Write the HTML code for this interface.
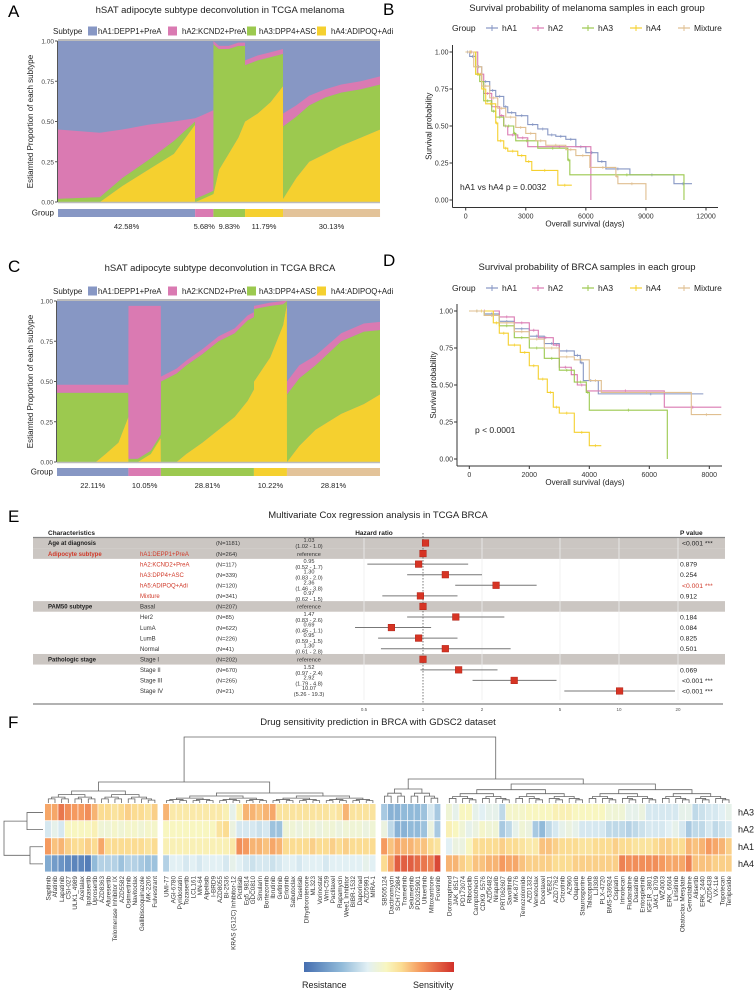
<!DOCTYPE html>
<html><head><meta charset="utf-8">
<style>
html,body{margin:0;padding:0;background:#fff;}
svg{display:block;font-family:"Liberation Sans",Arial,sans-serif;}
</style></head>
<body>
<svg id="fig" width="756" height="991" viewBox="0 0 756 991" xmlns="http://www.w3.org/2000/svg">
<rect x="0" y="0" width="756" height="991" fill="#fff"/>
<g id="pA"></g>
<g id="pC"></g>
<g id="pB"></g>
<g id="pD"></g>
<g id="pE"></g>
<g id="pF"></g>
</svg>
<script>
// ---------- Panel A/C data ----------
const subtypeNames = ["hA1:DEPP1+PreA","hA2:KCND2+PreA","hA3:DPP4+ASC","hA4:ADIPOQ+Adi"];
const melGroupPct = [42.58,5.68,9.83,11.79,30.13];
const melPos = [0,0.13,0.2,0.28,0.36,0.4255,0.4259,0.45,0.4825,0.4827,0.5,0.53,0.56,0.5808,0.581,0.62,0.66,0.6987,0.699,0.74,0.78,0.83,0.88,0.94,1];
const melYel = [0,0,0.1,0.2,0.3,0.48,0,0.02,0.05,0.05,0.2,0.3,0.4,0.5,0.5,0.55,0.62,0.72,0.02,0.15,0.25,0.3,0.35,0.4,0.45];
const melGrn = [0.02,0.03,0.05,0.06,0.08,0.02,0.02,0.02,0.02,0.93,0.75,0.65,0.57,0.47,0.35,0.33,0.28,0.2,0.45,0.38,0.35,0.35,0.33,0.3,0.28];
const melPnk = [0.43,0.4,0.3,0.22,0.12,0.02,0.5,0.5,0.5,0.02,0.02,0.02,0.02,0.02,0.03,0.03,0.03,0.03,0.08,0.07,0.06,0.05,0.05,0.05,0.05];
const brcGroupPct = [22.11,10.05,28.81,10.22,28.81];
const brcPos = [0,0.12,0.15,0.19,0.2209,0.2213,0.25,0.29,0.3214,0.3218,0.37,0.4,0.45,0.5,0.55,0.59,0.6095,0.6099,0.66,0.7,0.7117,0.7121,0.75,0.8,0.88,0.95,1];
const brcYel = [0,0,0.05,0.12,0.28,0,0,0.05,0.15,0,0,0.05,0.12,0.2,0.28,0.38,0.45,0.5,0.65,0.85,0.98,0,0.1,0.2,0.3,0.36,0.42];
const brcGrn = [0.43,0.43,0.38,0.31,0.15,0.02,0.02,0.02,0.02,0.5,0.55,0.55,0.55,0.55,0.52,0.5,0.45,0.45,0.32,0.13,0.02,0.42,0.42,0.4,0.45,0.45,0.4];
const brcPnk = [0.05,0.05,0.05,0.05,0.05,0.95,0.95,0.9,0.8,0.03,0.03,0.03,0.03,0.03,0.03,0.03,0.03,0.02,0.02,0.02,0.0,0.08,0.08,0.06,0.05,0.05,0.05];

// ---------- Panel B/D data ----------
const kmGroups = ["hA1","hA2","hA3","hA4","Mixture"];
const melT_hA1=[0,200,500,800,1200,1500,1900,2100,2500,3100,3600,4100,4500,5000,5500,6000,6600,7000,8200,10400,11300];
const melS_hA1=[1,0.97,0.9,0.8,0.74,0.7,0.63,0.59,0.57,0.51,0.48,0.44,0.43,0.41,0.36,0.32,0.26,0.21,0.17,0.11,0.11];
const melT_hA2=[0,600,900,1300,1700,1900,2100,2600,3100,6250,6250];
const melS_hA2=[1,0.85,0.72,0.63,0.57,0.5,0.44,0.42,0.36,0.36,0];
const melT_hA3=[0,500,700,900,1300,1500,1900,2400,2500,3600,5100,5200,10900,10900];
const melS_hA3=[1,0.85,0.8,0.67,0.6,0.56,0.5,0.45,0.4,0.35,0.27,0.17,0.17,0];
const melT_hA4=[0,500,800,1000,1500,1600,1900,2100,2600,3000,3300,4600,5300];
const melS_hA4=[1,0.85,0.75,0.65,0.52,0.4,0.35,0.33,0.3,0.26,0.2,0.1,0.1];
const melT_Mix=[0,400,800,1200,1600,2000,2500,3000,3500,4000,5000,5500,6200,7500,7600,9000,9000];
const melS_Mix=[1,0.9,0.77,0.69,0.62,0.56,0.49,0.45,0.4,0.37,0.34,0.3,0.22,0.16,0.11,0.11,0];
const brcT_hA1=[0,500,1000,1500,2000,2500,3000,3500,3700,3800,4300,7800];
const brcS_hA1=[1,0.98,0.93,0.88,0.83,0.78,0.73,0.7,0.65,0.53,0.44,0.44];
const brcT_hA2=[0,1000,1500,2000,2300,2800,3000,3400,3600,3900,6500,8400];
const brcS_hA2=[1,0.96,0.92,0.87,0.82,0.77,0.62,0.57,0.5,0.46,0.35,0.35];
const brcT_hA3=[0,500,1000,1500,2000,2500,3000,3500,3900,4000,6600,6600];
const brcS_hA3=[1,0.97,0.9,0.82,0.75,0.68,0.6,0.52,0.45,0.33,0.33,0];
const brcT_hA4=[0,800,1000,1300,1700,2000,2300,2600,2800,3000,3500,4000,4400];
const brcS_hA4=[1,0.92,0.85,0.77,0.72,0.63,0.54,0.45,0.35,0.31,0.18,0.09,0.09];
const brcT_Mix=[0,500,1000,1500,2000,2500,3000,3500,4000,4400,7400,8400];
const brcS_Mix=[1,0.97,0.92,0.86,0.81,0.75,0.69,0.67,0.53,0.45,0.3,0.3];

// ---------- Panel E data ----------
const coxChar = ["Age at diagnosis","Adipocyte subtype","","","","","PAM50 subtype","","","","","Pathologic stage","","",""];
const coxSub = ["","hA1:DEPP1+PreA","hA2:KCND2+PreA","hA3:DPP4+ASC","hA5:ADIPOQ+Adi","Mixture","Basal","Her2","LumA","LumB","Normal","Stage I","Stage II","Stage III","Stage IV"];
const coxN = [1181,264,117,339,120,341,207,85,622,226,41,202,670,265,21];
const coxHR = [1.03,1,0.95,1.30,2.36,0.97,1,1.47,0.69,0.95,1.30,1,1.52,2.92,10.07];
const coxLo = [1.02,1,0.52,0.83,1.46,0.62,1,0.83,0.45,0.59,0.61,1,0.97,1.79,5.26];
const coxHi = [1.04,1,1.7,2.0,3.8,1.5,1,2.6,1.1,1.5,2.8,1,2.4,4.8,19.3];
const coxHRtxt = ["1.03","reference","0.95","1.30","2.36","0.97","reference","1.47","0.69","0.95","1.30","reference","1.52","2.92","10.07"];
const coxCItxt = ["(1.02 - 1.0)","","(0.52 - 1.7)","(0.83 - 2.0)","(1.46 - 3.8)","(0.62 - 1.5)","","(0.83 - 2.6)","(0.45 - 1.1)","(0.59 - 1.5)","(0.61 - 2.8)","","(0.97 - 2.4)","(1.79 - 4.8)","(5.26 - 19.3)"];
const coxP = ["<0.001 ***","","0.879","0.254","<0.001 ***","0.912","","0.184","0.084","0.825","0.501","","0.069","<0.001 ***","<0.001 ***"];
const coxTicks = [0.5,1,2,5,10,20];

// ---------- Panel F data ----------
const drugs = ["Sapitinib","Afatinib","Lapatinib","CSI-027","ULK1_4989","Acetalax","Ipatasertib","Uprosertib","AZD8363","Afuresertib","Telomerase Inhibitor IX","AZD5582","Osimertinib","Navitoclax","Gallibiscoquinazole","MK-2206","Fulvestrant",
"UMI-77","AGI-6780","Pyridostatin","Tozasertib","LCL161","MN-64","Alpelisib","I-BRD9","AZD8055","BI-2536","KRAS (G12C) Inhibitor-12","Pictilisib","Eg5_9814","GDC0810","Sinularin","Bortezomib","Ibrutinib","Gefitinib","Erlotinib","Sabutoclax","Taselisib","Dihydrorotenone","ML323","Vorinostat","Wnt-C59","Paclitaxel","Rapamycin","Wee1 Inhibitor","BIBR-1532","Daporinad","AZD5991","MIRA-1",
"SB505124","Dactinomycin","SCH772984","Trametinib","Selumetinib","PD0325901","Ulixertinib","Mitoxantrone","Foretinib",
"Doramapimod","JAK_8517","PD173074","Ribociclib","Camptothecin","CDK9_5576","AZD6482","Niraparib","PRT062607","Savolitinib","MK-8776","Temozolomide","AZD1332","Venetoclax","Docetaxel","VE821","AZD7762","Crizotinib","AZ960","Olaparib","Staurosporine","Talazoparib","LJI308","PLX-4720","BMS-536924","Cisplatin","Irinotecan","Fludarabine","Dasatinib","Entospletinib","IGF1R_3801","JAK1_8709","WZ4003","ERK_6604","Linsitinib","Obatoclax Mesylate","Gemcitabine","Alisertib","ERK_2440","AZD5438","VX-11e","Topotecan","Teniposide"];
const drugGroupSizes = [17,32,9,43];
const heatRows = ["hA3","hA2","hA1","hA4"];
const valsHA3 = [.5,.5,.7,.6,.55,.55,.6,.45,.3,.3,.25,.3,.35,.3,.3,.25,.35,
.45,.2,.2,.2,.2,.2,.2,.2,.2,.15,-.1,.15,.45,.45,.4,.45,.5,.25,.25,.25,.25,.25,.25,.25,.25,.2,.25,.45,.25,.25,.25,.25,
-.4,-.55,-.55,-.5,-.5,-.5,-.45,-.2,-.4,
0,-.1,.1,.1,-.1,-.15,-.1,-.1,-.3,.05,.05,.05,.1,.1,.1,.1,.15,.15,.15,.1,.1,.1,.1,.1,0,0,0,-.1,-.1,-.05,-.2,-.2,-.2,-.2,-.2,-.1,-.1,-.3,-.25,-.2,-.2,-.15,-.1];
const valsHA2 = [-.2,-.1,-.2,.1,.1,.1,.1,.15,0,0,.05,0,.05,.05,0,.05,.05,
.1,.1,.1,.1,.1,.1,.1,.1,.25,.3,-.05,-.2,-.2,-.2,-.25,-.2,-.45,-.45,0,0,-.05,0,0,-.05,0,0,-.05,0,0,0,-.05,0,
-.05,-.3,-.55,-.55,-.5,-.5,-.45,-.05,-.4,
.15,.1,0,-.1,-.05,.05,0,0,-.4,-.3,-.1,0,-.05,-.4,-.5,-.3,-.2,-.1,-.05,-.1,-.2,-.2,-.2,-.2,-.3,-.3,-.3,-.35,-.3,-.25,-.2,-.2,-.2,-.15,-.1,-.2,-.4,-.3,-.3,-.2,-.3,-.25,-.2];
const valsHA1 = [.55,.4,.45,.35,.3,.3,.35,.3,.5,.3,.3,.3,.3,.3,.3,.25,.3,
.15,.15,.15,.15,.15,.15,.15,.15,.15,.15,.2,.6,.55,.45,.45,.4,.5,.45,.3,.3,.3,.3,.35,.3,.3,.35,.3,.35,.3,.3,.3,.3,
.55,.4,.5,.45,.45,.4,.4,.3,.25,
-.15,-.05,-.05,.1,.3,.3,.3,.3,.35,.3,.3,.25,.2,.2,.4,.4,.35,.3,.3,.3,.25,.25,.3,.3,.3,.35,.3,.3,.25,.25,.25,.3,.35,.35,.3,.3,.45,.4,.45,.55,.5,.45,.35];
const valsHA4 = [-.6,-.7,-.75,-.8,-.85,-.85,-.9,-.5,-.35,-.35,-.35,-.45,-.35,-.35,-.4,-.45,-.45,
-.35,-.15,-.15,-.2,-.15,-.2,-.15,-.15,-.15,-.2,-.1,-.15,-.2,-.25,-.2,-.2,-.25,-.2,-.15,-.15,-.2,-.15,-.15,-.15,-.2,-.15,-.15,-.15,-.15,-.15,-.1,-.15,
.3,.5,.8,.8,.8,.75,.7,.65,.9,
.45,.45,.35,.3,.4,.4,.45,.45,.55,.5,.5,.4,.35,.35,.35,.35,.3,.3,.3,.35,.35,.35,.35,.35,.35,.35,.65,.6,.6,.6,.6,.6,.55,.5,.5,.5,.65,.4,.4,.4,.35,.35,.35];

// ---------- helpers ----------
const NS="http://www.w3.org/2000/svg";
function mk(parent,tag,attrs,text){const e=document.createElementNS(NS,tag);for(const k in attrs)e.setAttribute(k,attrs[k]);if(text!==undefined)e.textContent=text;parent.appendChild(e);return e;}
const COL={hA1:"#8797c4",hA2:"#da7ab2",hA3:"#9cc94f",hA4:"#f5d02f",Mixture:"#e0bf90"};
const grpCols=[COL.hA1,COL.hA2,COL.hA3,COL.hA4,"#e3c399"];

// ---------- stacked deconvolution panels ----------
function stackPanel(g,o){
  const L=o.x0,R=o.x1,T=o.y0,B=o.y1;
  const sx=f=>L+f*(R-L), sy=v=>B-v*(B-T);
  let t=mk(g,"text",{x:8,y:o.lblY,"font-size":17},o.letter);
  
  
  t=mk(g,"text",{x:220,y:o.titleY,"font-size":9.5,"text-anchor":"middle",fill:"#222"},o.title);
  
  
  const ly=o.legY;
  t=mk(g,"text",{x:53,y:ly+3,"font-size":8,fill:"#222"},"Subtype");
  
  
  const bx=[88,168,247,317],tx=[98,182,259,331],cs=[COL.hA1,COL.hA2,COL.hA3,COL.hA4];
  subtypeNames.forEach((n,i)=>{
    const r=mk(g,"rect",{x:bx[i],y:ly-4.5,width:9,height:9,fill:cs[i]});
    
    
    const tt=mk(g,"text",{x:tx[i],y:ly+3,"font-size":7.8,fill:"#222"},n);
    
    
  });
  mk(g,"rect",{x:L,y:T,width:R-L,height:B-T,fill:COL.hA1});
  const layers=[[o.yel,COL.hA4],[o.grn,COL.hA3],[o.pnk,COL.hA2]];
  let base=o.pos.map(()=>0);
  layers.forEach(([arr,c],li)=>{
    const top=base.map((b,i)=>b+arr[i]);
    let pts=o.pos.map((p,i)=>sx(p)+","+sy(Math.min(1,top[i]))).join(" ");
    pts+=" "+o.pos.slice().reverse().map((p,j)=>{const i=o.pos.length-1-j;return sx(p)+","+sy(base[i]);}).join(" ");
    const pg=mk(g,"polygon",{points:pts,fill:c});
    
    
    base=top;
  });
  mk(g,"line",{x1:L,y1:T-1,x2:R,y2:T-1,stroke:"#bbb","stroke-width":2});
  mk(g,"line",{x1:L,y1:B+0.5,x2:R,y2:B+0.5,stroke:"#bbb","stroke-width":1.5});
  mk(g,"line",{x1:L-0.5,y1:T,x2:L-0.5,y2:B,stroke:"#555","stroke-width":1});
  [0,0.25,0.5,0.75,1].forEach(v=>{
    mk(g,"line",{x1:L-3,y1:sy(v),x2:L-0.5,y2:sy(v),stroke:"#555"});
    const tl=mk(g,"text",{x:L-4,y:sy(v)+2.5,"font-size":6.5,"text-anchor":"end",fill:"#444"},v.toFixed(2));
    
    
  });
  const yt=mk(g,"text",{x:0,y:0,"font-size":8,"text-anchor":"middle",fill:"#222",transform:`translate(33,${(T+B)/2}) rotate(-90)`},"Estiamted Proportion of each subtype");
  
  
  const gt=mk(g,"text",{x:L-4,y:o.gY+6.5,"font-size":8,"text-anchor":"end",fill:"#222"},"Group");
  
  
  let acc=0;
  o.pct.forEach((p,i)=>{
    const x0=sx(acc/100),x1=sx((acc+p)/100);
    const r=mk(g,"rect",{x:x0,y:o.gY,width:x1-x0,height:8,fill:grpCols[i]});
    
    
    const pt=mk(g,"text",{x:(x0+x1)/2,y:o.gY+20,"font-size":7.5,"text-anchor":"middle",fill:"#222"},p.toFixed(2)+"%");
    
    
    acc+=p;
  });
}
stackPanel(document.getElementById("pA"),{letter:"A",lblY:17,title:"hSAT adipocyte subtype deconvolution in TCGA melanoma",titleY:13,legY:31,x0:58,x1:380,y0:41,y1:202,gY:209,pct:melGroupPct,pos:melPos,yel:melYel,grn:melGrn,pnk:melPnk});
stackPanel(document.getElementById("pC"),{letter:"C",lblY:272,title:"hSAT adipocyte subtype deconvolution in TCGA BRCA",titleY:271,legY:291,x0:57,x1:380,y0:301,y1:462,gY:468,pct:brcGroupPct,pos:brcPos,yel:brcYel,grn:brcGrn,pnk:brcPnk});

// ---------- KM panels ----------
function kmPanel(g,o){
  const sx=v=>o.xz+(v/o.xmaxTick)*(o.xm-o.xz), sy=v=>o.y0v-(v)*(o.y0v-o.y1v);
  let t=mk(g,"text",{x:383,y:o.lblY,"font-size":17},o.letter);
  
  
  t=mk(g,"text",{x:587,y:o.titleY,"font-size":9.5,"text-anchor":"middle",fill:"#222"},o.title);
  
  
  t=mk(g,"text",{x:452,y:o.legY+3,"font-size":8.5,fill:"#222"},"Group");
  
  
  const txs=[502,548,598,646,694];
  kmGroups.forEach((n,i)=>{
    const c=COL[n];
    mk(g,"line",{x1:txs[i]-16,y1:o.legY,x2:txs[i]-4,y2:o.legY,stroke:c,"stroke-width":1.2});
    mk(g,"line",{x1:txs[i]-10,y1:o.legY-3,x2:txs[i]-10,y2:o.legY+3,stroke:c,"stroke-width":1});
    const e=mk(g,"text",{x:txs[i],y:o.legY+3,"font-size":8.5,fill:"#222"},n);
    
    
  });
  // axes
  mk(g,"line",{x1:o.axL,y1:o.axTop,x2:o.axL,y2:o.axB,stroke:"#333","stroke-width":1});
  mk(g,"line",{x1:o.axL,y1:o.axB,x2:o.axR,y2:o.axB,stroke:"#333","stroke-width":1});
  [0,0.25,0.5,0.75,1].forEach(v=>{
    mk(g,"line",{x1:o.axL-3,y1:sy(v),x2:o.axL,y2:sy(v),stroke:"#333"});
    const tl=mk(g,"text",{x:o.axL-4,y:sy(v)+2.5,"font-size":7,"text-anchor":"end",fill:"#333"},v.toFixed(2));
    
    
  });
  o.xticks.forEach(v=>{
    mk(g,"line",{x1:sx(v),y1:o.axB,x2:sx(v),y2:o.axB+3,stroke:"#333"});
    const tl=mk(g,"text",{x:sx(v),y:o.axB+11,"font-size":7,"text-anchor":"middle",fill:"#333"},String(v));
    
    
  });
  t=mk(g,"text",{x:585,y:o.axB+19,"font-size":8,"text-anchor":"middle",fill:"#222"},"Overall survival (days)");
  
  
  t=mk(g,"text",{x:0,y:0,"font-size":8,"text-anchor":"middle",fill:"#222",transform:`translate(${o.axL-21},${(o.axTop+o.axB)/2}) rotate(-90)`},"Survival probability");
  
  
  kmGroups.forEach((n,i)=>{
    const T=o.T[i],S=o.S[i];
    let d=`M${sx(T[0])},${sy(S[0])}`;
    for(let k=1;k<T.length;k++){d+=` H${sx(T[k])} V${sy(S[k])}`;}
    const p=mk(g,"path",{d:d,fill:"none",stroke:COL[n],"stroke-width":1.1});
    
    
    for(let k=1;k<T.length;k++){
      if(S[k]===0)continue;
      const mx=(sx(T[k-1])+sx(T[k]))/2;
      mk(g,"path",{d:`M${mx-1.5},${sy(S[k-1])}h3M${mx},${sy(S[k-1])-1.5}v3`,stroke:COL[n],"stroke-width":0.7});
    }
  });
  t=mk(g,"text",{x:o.annX,y:o.annY,"font-size":8.5,fill:"#222"},o.ann);
  
  
}
kmPanel(document.getElementById("pB"),{letter:"B",lblY:15,title:"Survival probability of melanoma samples in each group",titleY:11,legY:28,
 xz:465.7,xm:706,xmaxTick:12000,y0v:200,y1v:52,axL:452.5,axB:207.5,axR:718,axTop:45,xticks:[0,3000,6000,9000,12000],
 T:[melT_hA1,melT_hA2,melT_hA3,melT_hA4,melT_Mix],S:[melS_hA1,melS_hA2,melS_hA3,melS_hA4,melS_Mix],ann:"hA1 vs hA4 p = 0.0032",annX:460,annY:190});
kmPanel(document.getElementById("pD"),{letter:"D",lblY:266,title:"Survival probability of BRCA samples in each group",titleY:270,legY:288,
 xz:469.3,xm:709.3,xmaxTick:8000,y0v:459,y1v:311,axL:457,axB:466,axR:722,axTop:304,xticks:[0,2000,4000,6000,8000],
 T:[brcT_hA1,brcT_hA2,brcT_hA3,brcT_hA4,brcT_Mix],S:[brcS_hA1,brcS_hA2,brcS_hA3,brcS_hA4,brcS_Mix],ann:"p < 0.0001",annX:475,annY:433});

// ---------- Forest plot ----------
(function(){
  const g=document.getElementById("pE");
  const hx=v=>423+59*Math.log2(v);
  const rowY=i=>543+i*10.57;
  let t=mk(g,"text",{x:8,y:522,"font-size":17},"E");
  
  
  t=mk(g,"text",{x:378,y:518,"font-size":9.5,"text-anchor":"middle",fill:"#222"},"Multivariate Cox regression analysis in TCGA BRCA");
  
  
  [[48,"start","Characteristics"],[374,"middle","Hazard ratio"],[680,"start","P value"]].forEach(([x,a,s])=>{
    const h=mk(g,"text",{x:x,y:535,"font-size":6.5,"font-weight":"bold","text-anchor":a,fill:"#222"},s);
    
    
  });
  coxHR.forEach((v,i)=>{
    if(coxChar[i]!==""){
      const b=mk(g,"rect",{x:33,y:rowY(i)-5.3,width:692,height:10.6,fill:"#cbc6c2"});
      
      
    }
  });
  mk(g,"line",{x1:33,y1:537.5,x2:725,y2:537.5,stroke:"#888","stroke-width":1.2});
  coxTicks.forEach(v=>{ if(v!==1) mk(g,"line",{x1:hx(v),y1:538,x2:hx(v),y2:700,stroke:"#eee","stroke-width":0.8}); });
  mk(g,"line",{x1:hx(1),y1:533,x2:hx(1),y2:704,stroke:"#444","stroke-width":0.7,"stroke-dasharray":"1.5,1.5"});
  coxHR.forEach((v,i)=>{
    const y=rowY(i), red=(i>=1&&i<=5);
    if(coxChar[i]){const c=mk(g,"text",{x:48,y:y+2.2,"font-size":6,"font-weight":"bold",fill:i===1?"#d03a2a":"#222"},coxChar[i]);
      
      }
    if(coxSub[i]){const c=mk(g,"text",{x:140,y:y+2.2,"font-size":6,fill:red?"#d03a2a":"#333"},coxSub[i]);
      
      }
    const n=mk(g,"text",{x:216,y:y+2.2,"font-size":5.8,fill:"#333"},"(N="+coxN[i]+")");
    
    
    if(coxCItxt[i]){
      mk(g,"text",{x:309,y:y-1,"font-size":5.6,"text-anchor":"middle",fill:"#333"},coxHRtxt[i]);
      mk(g,"text",{x:309,y:y+5,"font-size":5.6,"text-anchor":"middle",fill:"#333"},coxCItxt[i]);
    } else {
      mk(g,"text",{x:309,y:y+2.2,"font-size":5.6,"text-anchor":"middle",fill:"#333"},coxHRtxt[i]);
    }
    if(coxLo[i]!==coxHi[i]){
      const l=mk(g,"line",{x1:hx(coxLo[i]),y1:y,x2:hx(coxHi[i]),y2:y,stroke:"#777","stroke-width":1});
      
      
    }
    const s=mk(g,"rect",{x:hx(v)-3.3,y:y-3.3,width:6.6,height:6.6,fill:"#d63424",stroke:"#b02015","stroke-width":0.5});
    
    
    if(coxP[i]){const p=mk(g,"text",{x:coxP[i][0]==="<"?682:680,y:y+2.5,"font-size":6.8,fill:(i===4)?"#d03a2a":"#222"},coxP[i]);
      
      }
  });
  mk(g,"line",{x1:33,y1:704,x2:723,y2:704,stroke:"#666","stroke-width":1});
  coxTicks.forEach(v=>{
    const tl=mk(g,"text",{x:hx(v),y:711,"font-size":4.5,"text-anchor":"middle",fill:"#555"},String(v));
    
    
  });
})();

// ---------- Heatmap ----------
(function(){
  const g=document.getElementById("pF");
  let t=mk(g,"text",{x:8,y:728,"font-size":17},"F");
  
  
  t=mk(g,"text",{x:378,y:725,"font-size":9.5,"text-anchor":"middle",fill:"#222"},"Drug sensitivity prediction in BRCA with GDSC2 dataset");
  
  
  const stops=[[-1,[69,110,176]],[-0.5,[145,186,217]],[-0.15,[226,240,244]],[0.1,[248,246,192]],[0.3,[251,220,146]],[0.55,[245,154,95]],[1,[209,48,42]]];
  function col(v){v=Math.max(-1,Math.min(1,v));for(let i=1;i<stops.length;i++){if(v<=stops[i][0]){const a=stops[i-1],b=stops[i],f=(v-a[0])/(b[0]-a[0]);const c=a[1].map((x,k)=>Math.round(x+(b[1][k]-x)*f));return `rgb(${c})`;}}return "rgb(209,48,42)";}
  const cw=6.66,gap=4.9,x0=45,y0=804,rh=17.1;
  const grpIdx=[];drugGroupSizes.forEach((s,gi)=>{for(let k=0;k<s;k++)grpIdx.push(gi);});
  const cx=i=>x0+i*cw+grpIdx[i]*gap;
  const rows=[valsHA3,valsHA2,valsHA1,valsHA4];
  rows.forEach((arr,r)=>{
    arr.forEach((v,i)=>{
      const c=mk(g,"rect",{x:cx(i),y:y0+r*rh,width:cw-0.7,height:rh-0.8,fill:col(v)});
      
      
    });
    const rl=mk(g,"text",{x:738,y:y0+r*rh+rh/2+3,"font-size":9,fill:"#222"},heatRows[r]);
    
    
  });
  drugs.forEach((d,i)=>{
    const x=cx(i)+cw/2+2.2;
    const l=mk(g,"text",{x:0,y:0,"font-size":6.4,"text-anchor":"end",fill:"#333",transform:`translate(${x},876) rotate(-90)`},d);
    
    
  });
  // column dendrogram
  const st={stroke:"#666","stroke-width":0.8,fill:"none"};
  function tree(a,b,topY){ // leaves a..b-1
    if(b-a===1)return {x:cx(a)+cw/2,y:803};
    const m=Math.floor((a+b)/2);
    const ny=topY+(803-topY)*0.3;
    const L=tree(a,m,ny),R=tree(m,b,ny);
    mk(g,"path",Object.assign({d:`M${L.x},${L.y}V${topY}H${R.x}V${R.y}`},st));
    return {x:(L.x+R.x)/2,y:topY};
  }
  let s=0;const tops=[791,793,789,784],nodes=[];
  drugGroupSizes.forEach((n,gi)=>{nodes.push(tree(s,s+n,tops[gi]));s+=n;});
  mk(g,"path",Object.assign({d:`M${nodes[0].x},${nodes[0].y}V782H${nodes[1].x}V${nodes[1].y}`},st));
  mk(g,"path",Object.assign({d:`M${nodes[2].x},${nodes[2].y}V779H${nodes[3].x}V${nodes[3].y}`},st));
  const lx=(nodes[0].x+nodes[1].x)/2,rx=(nodes[2].x+nodes[3].x)/2;
  mk(g,"path",Object.assign({d:`M${lx},782V737H${rx}V779`},st));
  // row dendrogram
  const ry=r=>y0+r*rh+rh/2;
  mk(g,"path",Object.assign({d:`M43,${ry(0)}H27V${ry(1)}H43`},st));
  mk(g,"path",Object.assign({d:`M43,${ry(2)}H30V${ry(3)}H43`},st));
  mk(g,"path",Object.assign({d:`M27,${(ry(0)+ry(1))/2}H4V${(ry(2)+ry(3))/2}H30`},st));
  // color legend
  const defs=mk(g,"defs",{});
  const lg=mk(defs,"linearGradient",{id:"cbar",x1:"0",x2:"1",y1:"0",y2:"0"});
  stops.forEach(sv=>mk(lg,"stop",{offset:((sv[0]+1)/2*100)+"%","stop-color":`rgb(${sv[1]})`}));
  const cb=mk(g,"rect",{x:304,y:962,width:150,height:10,fill:"url(#cbar)"});
  
  
  t=mk(g,"text",{x:302,y:988,"font-size":9,fill:"#222"},"Resistance");
  
  
  t=mk(g,"text",{x:413,y:988,"font-size":9,fill:"#222"},"Sensitivity");
  
  
})();
</script>
</body></html>
